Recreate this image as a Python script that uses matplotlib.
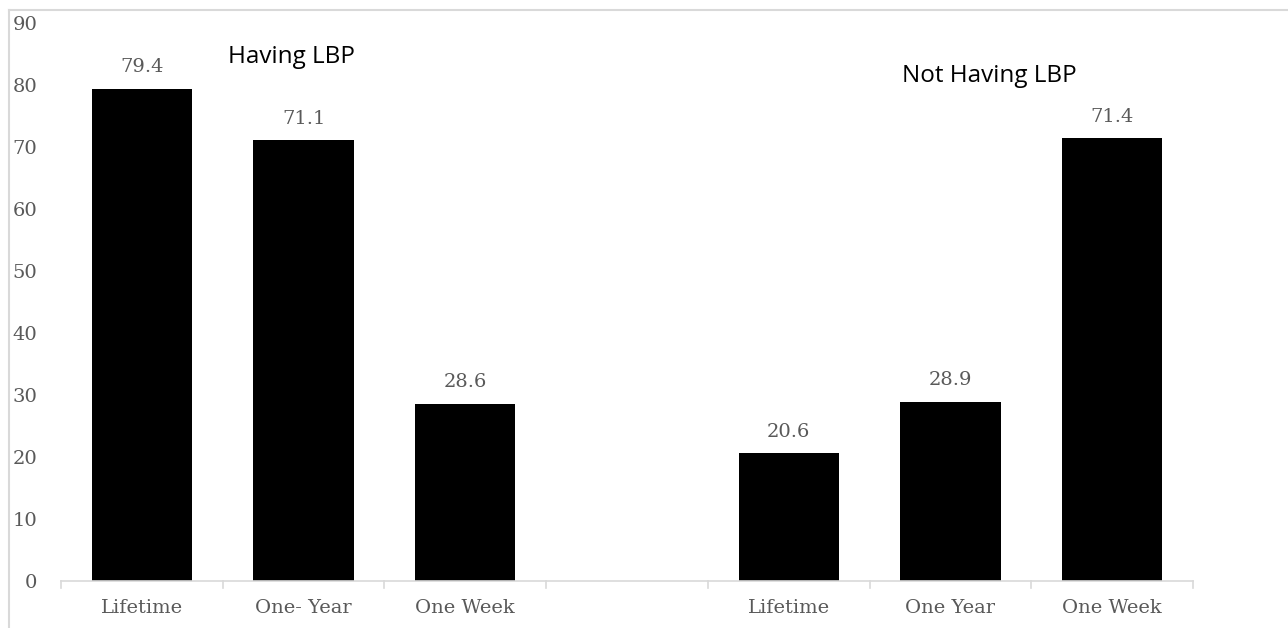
import matplotlib

matplotlib.use("Agg")
import matplotlib.pyplot as plt
from matplotlib.lines import Line2D

# data
categories = ["Lifetime", "One- Year", "One Week", "", "Lifetime", "One Year", "One Week"]
values = [79.4, 71.1, 28.6, None, 20.6, 28.9, 71.4]
group_labels = ["Having LBP", "Not Having LBP"]
yticks = list(range(0, 91, 10))

W, H = 1288, 628
GRAY_TXT = "#595959"
GRAY_LINE = "#d9d9d9"
SERIF = ["DejaVu Serif"]
SANS = ["Open Sans", "DejaVu Sans"]

fig = plt.figure(figsize=(W / 100, H / 100), dpi=100)
ax = fig.add_axes([61 / W, 1 - 581 / H, (1193 - 61) / W, (581 - 23) / H])

xs = list(range(len(categories)))
for x, v in zip(xs, values):
    if v is None:
        continue
    ax.bar(x, v, width=0.62, color="black")
    ax.annotate(f"{v:.1f}", (x, v), xytext=(0, 9), textcoords="offset points",
                ha="center", va="bottom", fontsize=14, color=GRAY_TXT, family=SERIF)

ax.set_xlim(-0.5, len(categories) - 0.5)
ax.set_ylim(0, 90)
ax.set_yticks(yticks)
ax.set_yticklabels([str(t) for t in yticks], family=SERIF, fontsize=14, color=GRAY_TXT)
ax.tick_params(axis="y", length=0, pad=17)

ax.set_xticks(xs)
ax.set_xticklabels(categories, family=SERIF, fontsize=14, color=GRAY_TXT)
ax.tick_params(axis="x", length=0, pad=13)
# category boundary ticks
for b in [i - 0.5 for i in range(len(categories) + 1)]:
    ax.plot([b, b], [0, -1.2], color=GRAY_LINE, lw=1.2, clip_on=False)

for s in ["top", "right", "left"]:
    ax.spines[s].set_visible(False)
ax.spines["bottom"].set_color(GRAY_LINE)
ax.spines["bottom"].set_linewidth(1.2)

ax.text(0.53, 84.5, group_labels[0], fontsize=17.5, family=SANS, va="center")
ax.text(4.70, 81.5, group_labels[1], fontsize=17.5, family=SANS, va="center")

# figure border (left and top visible)
fig.add_artist(Line2D([9 / W, 9 / W], [0, 1 - 10 / H], color=GRAY_LINE, lw=1.5))
fig.add_artist(Line2D([9 / W, 1], [1 - 10 / H, 1 - 10 / H], color=GRAY_LINE, lw=1.5))

fig.savefig("out.png", dpi=100)
